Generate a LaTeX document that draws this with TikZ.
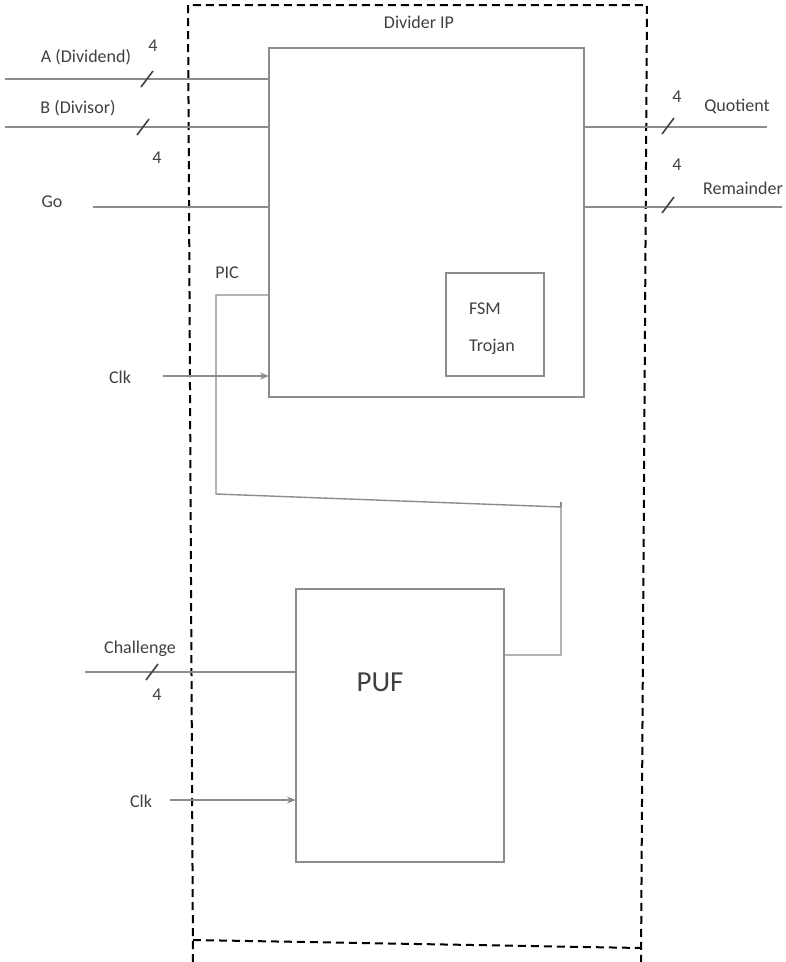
\documentclass[tikz,border=0pt]{standalone}
\usepackage{fontspec}
\setmainfont{Carlito}
\definecolor{wiregray}{RGB}{140, 140, 140}
\definecolor{textgray}{RGB}{64, 64, 64}
\usetikzlibrary{arrows.meta, positioning, calc}

\begin{document}
\begin{tikzpicture}[x=1pt, y=-1pt,
  block/.style={draw=wiregray, line width=1.5pt, inner sep=0pt, outer sep=0pt, anchor=north west},
  wire/.style={draw=wiregray, line width=1.4pt},
  clkwire/.style={wire, -{Stealth[length=9pt, width=7pt]}},
  busmark/.style={draw=textgray, line width=1.6pt},
  lbl/.style={text=textgray, font=\fontsize{18}{21}\selectfont, inner sep=0pt},
  boundary/.style={line width=2pt, dash pattern=on 8pt off 5pt}]
  \useasboundingbox (0,0) rectangle (786,962);

  % dashed IP boundary
  \draw[boundary] (193,962) -- (188,5) -- (647,5) -- (641,962);
  \draw[boundary] (193,940) -- (641,948);
  \node[lbl] (title) at (419,22) {Divider IP};

  % blocks
  \node[block, minimum width=315pt, minimum height=349pt] (div) at (269,48) {};
  \node[block, minimum width=98pt, minimum height=103pt] (fsm) at (446,273) {};
  \node[lbl, anchor=west] (fsmtop) at (469,309) {FSM};
  \node[lbl, anchor=west] (fsmbot) at (469,347) {Trojan};
  \node[block, minimum width=208pt, minimum height=273pt] (puf) at (296,589) {};
  \node[lbl, font=\fontsize{29}{34}\selectfont] (puflbl) at (380,682) {PUF};

  % divider inputs
  \coordinate (aIn) at (5,79);
  \draw[wire] (aIn) -- (aIn -| div.west);
  \node[lbl] (aLbl) at (86,57) {A (Dividend)};
  \node[lbl] (aW) at (153,46) {4};
  \draw[busmark] (147,79) ++(-6,8) -- ++(12,-16);

  \coordinate (bIn) at (5,127);
  \draw[wire] (bIn) -- (bIn -| div.west);
  \node[lbl] (bLbl) at (78,108) {B (Divisor)};
  \node[lbl] (bW) at (157,158) {4};
  \draw[busmark] (143,127) ++(-6,8) -- ++(12,-16);

  \coordinate (goIn) at (93,207);
  \draw[wire] (goIn) -- (goIn -| div.west);
  \node[lbl] (goLbl) at (52,202) {Go};

  \coordinate (clkA) at (163,376);
  \draw[clkwire] (clkA) -- (clkA -| div.west);
  \node[lbl] (clkALbl) at (120,377) {Clk};

  % divider outputs
  \coordinate (quOut) at (767,127);
  \draw[wire] (div.east |- quOut) -- (quOut);
  \node[lbl] (quLbl) at (737,106) {Quotient};
  \node[lbl] (quW) at (677,97) {4};
  \draw[busmark] (668,126) ++(-6,8) -- ++(12,-16);

  \coordinate (remOut) at (782,207);
  \draw[wire] (div.east |- remOut) -- (remOut);
  \node[lbl] (remLbl) at (743,188) {Remainder};
  \node[lbl] (remW) at (677,165) {4};
  \draw[busmark] (668,205) ++(-6,8) -- ++(12,-16);

  % PIC loop from PUF to divider
  \node[lbl] (picLbl) at (227,273) {PIC};
  \coordinate (picA) at (216,295);
  \coordinate (picB) at (216,494);
  \coordinate (picC) at (561,507);
  \coordinate (picD) at (561,655);
  \draw[wire] (div.west |- picA) -- (picA) -- (picB) -- (picC) -- (picD) -- (picD -| puf.east);
  \draw[wire] (picC) -- ++(0,-5);

  % PUF inputs
  \coordinate (chIn) at (85,672);
  \draw[wire] (chIn) -- (chIn -| puf.west);
  \node[lbl] (chLbl) at (140,649) {Challenge};
  \node[lbl] (chW) at (157,695) {4};
  \draw[busmark] (152,672) ++(-6,8) -- ++(12,-16);

  \coordinate (clkB) at (170,800);
  \draw[clkwire] (clkB) -- (clkB -| puf.west);
  \node[lbl] (clkBLbl) at (141,801) {Clk};
\end{tikzpicture}
\end{document}
